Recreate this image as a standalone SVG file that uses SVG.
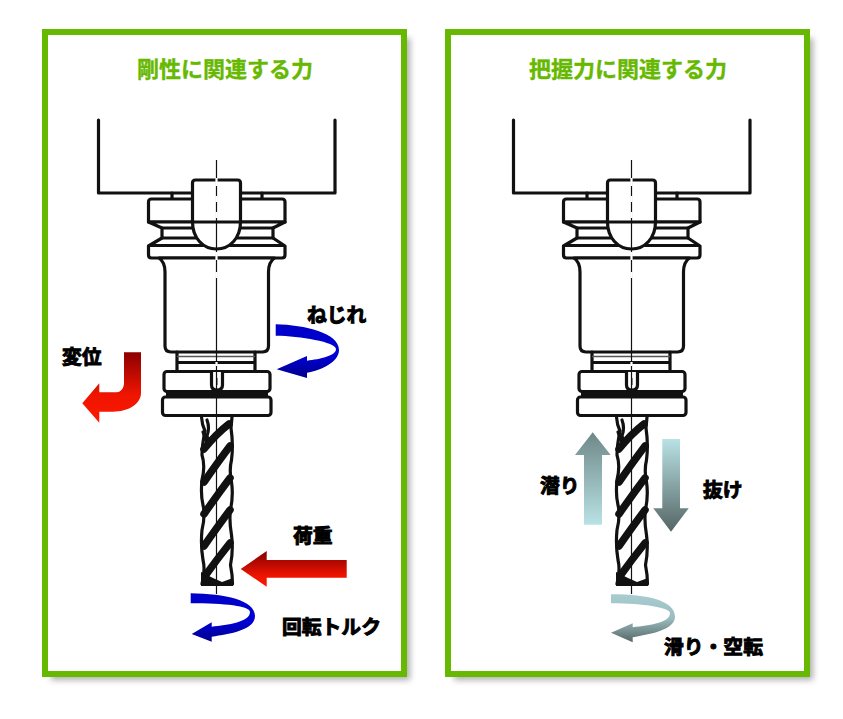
<svg xmlns="http://www.w3.org/2000/svg" width="843" height="719" viewBox="0 0 843 719">
<style>
.frame{fill:#fff;stroke:#66b800;stroke-width:6}
.title{font:bold 22px "Noto Sans CJK JP","Liberation Sans",sans-serif;fill:#66b800;stroke:#66b800;stroke-width:.35}
.lab{font:bold 19.800px "Noto Sans CJK JP","Liberation Sans",sans-serif;fill:#000;stroke:#000;stroke-width:1}
.l{fill:none;stroke:#111;stroke-width:3.2;stroke-linejoin:round;stroke-linecap:round}
.k{fill:#fff;stroke:#111;stroke-width:3.2;stroke-linejoin:round}
.c{fill:none;stroke:#111;stroke-width:1.2}
.b{fill:none;stroke:#111;stroke-width:7.500;stroke-linecap:round}
</style>
<defs>
<filter id="sh" x="-5%" y="-5%" width="112%" height="112%"><feGaussianBlur stdDeviation="3"/></filter>
<linearGradient id="gBlue" x1="0" y1="0" x2="0" y2="1"><stop offset="0" stop-color="#0000c8"/><stop offset=".6" stop-color="#0000d4"/><stop offset="1" stop-color="#000088"/></linearGradient>
<linearGradient id="gRedD" x1="0" y1="0" x2="0" y2="1"><stop offset="0" stop-color="#8c0000"/><stop offset=".6" stop-color="#ee1500"/><stop offset="1" stop-color="#ff1800"/></linearGradient>
<linearGradient id="gRedH" gradientUnits="userSpaceOnUse" x1="0" y1="551" x2="0" y2="587"><stop offset="0" stop-color="#800000"/><stop offset=".7" stop-color="#f01400"/><stop offset="1" stop-color="#ff1800"/></linearGradient>
<linearGradient id="gUp" x1="0" y1="0" x2="0" y2="1"><stop offset="0" stop-color="#6f8888"/><stop offset="1" stop-color="#b9e2e4"/></linearGradient>
<linearGradient id="gDown" x1="0" y1="0" x2="0" y2="1"><stop offset="0" stop-color="#b9e2e4"/><stop offset="1" stop-color="#556565"/></linearGradient>
<linearGradient id="gSlip" x1="0" y1="0" x2="0" y2="1"><stop offset="0" stop-color="#a8cdd0"/><stop offset=".5" stop-color="#9bbcc0"/><stop offset="1" stop-color="#566666"/></linearGradient>
<g id="tool">
<path class="l" d="M98.500 120V193H192M241 193H335V120"/>
<path class="l" d="M172 193V199M262 193V199"/>
<path class="k" d="M148.500 222V202Q148.500 199 151.500 199H282Q285 199 285 202V222Z"/>
<path class="k" d="M148.500 222L162 228V238L148.500 246V255Q148.500 258 151.500 258H282Q285 258 285 255V246L273 238V228L285 222Z"/>
<path class="l" d="M162 228H273M162 238H273M150 245.500H283"/>
<path class="k" d="M159 258Q165 262 165 272V346Q165 352 171 352H262.500Q268.500 352 268.500 346V272Q268.500 262 274.500 258Z"/>
<path class="k" d="M192.500 222V183Q192.500 180 195.500 180H237.500Q240.500 180 240.500 183V222C240.500 238 230 249 216.500 249C203 249 192.500 238 192.500 222Z"/>
<path class="l" d="M192.500 222H240.500"/>
<path class="l" d="M177 352V371M255 352V371M177 362.500H255"/>
<path d="M177 356.500H255" stroke="#555" stroke-width="1.300" fill="none"/>
<rect class="k" x="164" y="371.500" width="106" height="20" rx="3"/>
<rect class="k" x="162.500" y="397" width="108.500" height="18.500" rx="3"/>
<path d="M166 391H268V397H166Z" fill="#111"/>
<path class="k" d="M211.500 372V385Q211.500 390 217 390Q222.500 390 222.500 385V372"/>
<path d="M217 378V385" fill="none" stroke="#555" stroke-width="1.300"/>
<path class="l" stroke-width="4" d="M201.500 417Q202 425 205 431Q202 445 202 455Q205.500 466 202 480Q200.500 495 203 505Q205.500 515 202 530Q200.500 545 203 560Q205.500 570 202 584M232 417L231 428Q233.500 445 231.500 460Q229 470 231.500 482Q233.500 495 230.500 510Q229 520 231.500 535Q233.500 550 230.500 565Q232.500 575 232.500 584"/>
<path class="l" d="M207 420Q210 428 207 436Q210 447 214 438" stroke-width="2.500"/>
<path class="l" d="M203 432L208 446" stroke-width="3"/>
<g><path class="b" d="M204 449Q216 434 229 424"/><path class="b" d="M204 482Q218 462 230 446"/><path class="b" d="M204 514Q218 494 230 478"/><path class="b" d="M204 546Q218 526 230 510"/><path class="b" d="M205 576Q218 558 230 543"/></g>
<path d="M201 586V572L213 578L222 582L233 578V586Z" fill="#111"/>
<path class="c" d="M216.500 160V594"/>
<path d="M216.500 178V186M216.500 196V202M216.500 212V218M216.500 252V260M216.500 272V278M216.500 362V366" stroke="#fff" stroke-width="2.200"/>
</g>
</defs>

<g id="panel-left">
<rect x="51" y="38" width="359" height="642" fill="#777" opacity=".6" filter="url(#sh)"/>
<rect class="frame" x="45" y="32" width="359" height="642"/>
<text class="title" x="225" y="77" text-anchor="middle">剛性に関連する力</text>
</g>
<g id="panel-right">
<rect x="454" y="38" width="359" height="642" fill="#777" opacity=".6" filter="url(#sh)"/>
<rect class="frame" x="448" y="32" width="359" height="642"/>
<text class="title" x="628" y="77" text-anchor="middle">把握力に関連する力</text>
</g>

<g id="tool-left"><use href="#tool"/></g>
<g id="tool-right"><use href="#tool" x="415"/></g>

<g id="connectors">
<path id="arrow-twist" fill="url(#gBlue)" d="M275.700 324.300C305 325 339 333 339 350C339 362 322 370 307 372.700V378L276.700 369.300L307 356V360.700C320 359 336 356 336 349C336 342 300 336 275.700 335.700Z"/>
<path id="arrow-disp" fill="url(#gRedD)" d="M124 352.300H141V393C141 404 128 411.700 113 411.700H99.300V422.700L82.300 403.300L99.300 383.300V392.300H116.700C121 392 124 388 124 383Z"/>
<path id="arrow-load" fill="url(#gRedH)" d="M240.700 569L266.700 551V560H346.700V577.700H266.700V586.700Z"/>
<path id="arrow-torque" fill="url(#gBlue)" d="M190.700 593.300C225 594 255 600 255 616C255 630 230 634 211.700 636.700V641.700L191.700 634L211.700 622.300V626.700C228 625 250 622 250 612C250 606 225 603.300 190.700 603.300Z"/>
<path id="arrow-slip-up" fill="url(#gUp)" d="M592.700 432.300L610.700 455H602V524.700H584V455H575Z"/>
<path id="arrow-pull" fill="url(#gDown)" d="M662.300 439H680V508.300H688.700L671 531.700L653.300 508.300H662.300Z"/>
<path id="arrow-slip-rot" fill="url(#gSlip)" d="M611 594.300C645 594 675 600 675 616.700C675 630 650 634 632.700 637.300V642.300L611 632.700L632.700 623.300V627.300C650 625 670 623 670 613C670 608 645 603.300 611 603.300Z"/>
</g>

<g id="labels">
<text class="lab" x="307" y="322">ねじれ</text>
<text class="lab" x="62" y="364">変位</text>
<text class="lab" x="293" y="543">荷重</text>
<text class="lab" x="282" y="634">回転トルク</text>
<text class="lab" x="540" y="493">潜り</text>
<text class="lab" x="703" y="497">抜け</text>
<text class="lab" x="664" y="654">滑り・空転</text>
</g>
</svg>
